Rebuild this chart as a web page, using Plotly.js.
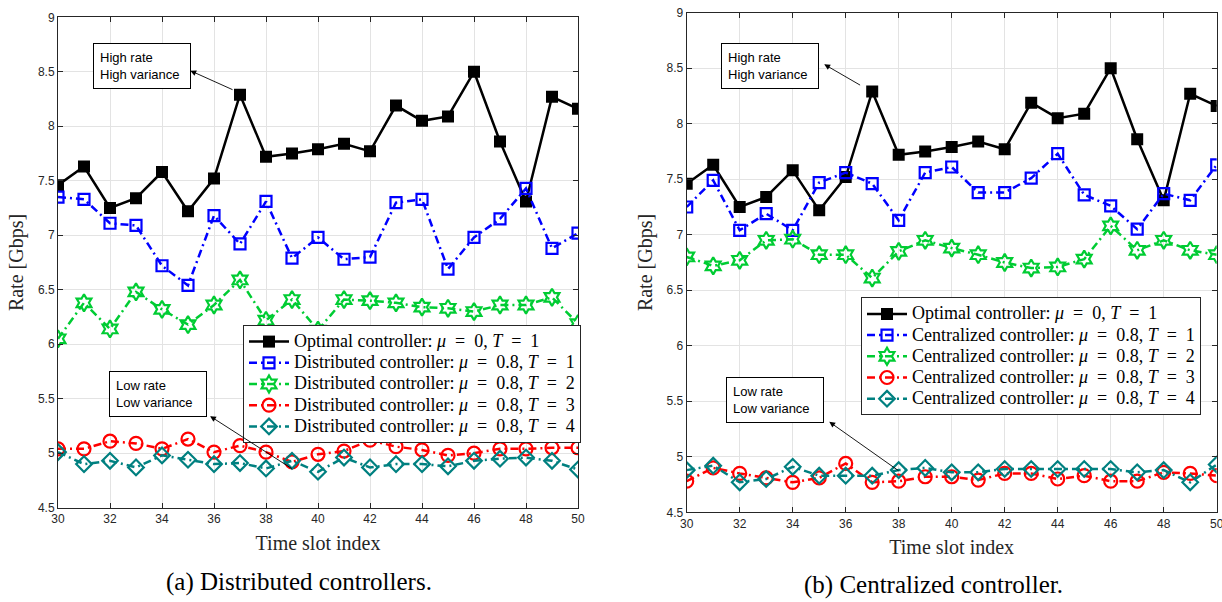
<!DOCTYPE html>
<html>
<head>
<meta charset="utf-8">
<script src="https://cdn.plot.ly/plotly-3.0.1.min.js"></script>
<style>
html,body{margin:0;padding:0;background:#fff;}
#chart{width:1222px;height:602px;}
.legendtext, .legend2text{font-size:18px !important;}
</style>
</head>
<body>
<div id="chart"></div>
<script>
// ---- data ----
const slots = [30,31,32,33,34,35,36,37,38,39,40,41,42,43,44,45,46,47,48,49,50];
const optimal = [7.46,7.63,7.25,7.34,7.58,7.22,7.52,8.29,7.72,7.75,7.79,7.84,7.77,8.19,8.05,8.09,8.50,7.86,7.31,8.27,8.16];
const distT1 = [7.35,7.33,7.11,7.09,6.72,6.54,7.18,6.92,7.31,6.79,6.98,6.78,6.80,7.30,7.33,6.69,6.98,7.15,7.43,6.88,7.02];
const distT2 = [6.05,6.38,6.14,6.48,6.32,6.18,6.36,6.59,6.22,6.41,6.13,6.41,6.40,6.38,6.34,6.33,6.30,6.36,6.36,6.43,6.19];
const distT3 = [5.04,5.04,5.11,5.09,5.04,5.13,5.01,5.07,5.01,4.92,4.99,5.02,5.12,5.06,5.03,4.98,5.00,5.04,5.04,5.05,5.05];
const distT4 = [5.01,4.90,4.93,4.87,4.98,4.94,4.90,4.91,4.86,4.93,4.83,4.96,4.87,4.90,4.90,4.88,4.93,4.95,4.96,4.93,4.85];
const centT1 = [7.25,7.49,7.04,7.19,7.04,7.47,7.56,7.46,7.13,7.56,7.61,7.38,7.38,7.51,7.73,7.36,7.26,7.05,7.37,7.31,7.63];
const centT2 = [6.80,6.72,6.77,6.95,6.96,6.82,6.82,6.61,6.85,6.95,6.88,6.82,6.75,6.70,6.71,6.78,7.08,6.86,6.95,6.86,6.82];
const centT3 = [4.78,4.90,4.85,4.81,4.77,4.81,4.94,4.77,4.78,4.82,4.82,4.79,4.85,4.85,4.80,4.83,4.78,4.78,4.86,4.85,4.83];
const centT4 = [4.88,4.92,4.77,4.80,4.91,4.83,4.83,4.83,4.88,4.90,4.86,4.86,4.89,4.89,4.89,4.89,4.89,4.86,4.88,4.77,4.93];

const SP = '\u2002';
const optName = 'Optimal controller: <i>μ</i>' + SP + '=' + SP + '0, <i>T</i>' + SP + '=' + SP + '1';
const distNames = [1,2,3,4].map(t => 'Distributed controller: <i>μ</i>' + SP + '=' + SP + '0.8, <i>T</i>' + SP + '=' + SP + t);
const centNames = [1,2,3,4].map(t => 'Centralized controller: <i>μ</i>' + SP + '=' + SP + '0.8, <i>T</i>' + SP + '=' + SP + t);
const xTitle = 'Time slot index';
const yTitle = 'Rate [Gbps]';
const captionA = '(a) Distributed controllers.';
const captionB = '(b) Centralized controller.';

// ---- styles ----
const W = 1222, H = 602;
const DASH = '8px,4px,2px,4px';
const styles = [
  {color:'#000000', symbol:'square', size:12, dash:'solid', open:false},
  {color:'#0000ff', symbol:'square-open', size:11, dash:DASH, open:true},
  {color:'#00cc33', symbol:'hexagram-open', size:13, dash:DASH, open:true},
  {color:'#ff0000', symbol:'circle-open', size:13, dash:DASH, open:true},
  {color:'#008080', symbol:'diamond-open', size:12, dash:DASH, open:true}
];
function mk(y, name, i, xa, ya, lg){
  const s = styles[i];
  return {
    x: slots, y: y, name: name, type:'scatter', mode:'lines+markers',
    xaxis: xa, yaxis: ya, legend: lg,
    line:{color:s.color, width:2.5, dash:s.dash},
    marker:{symbol:s.symbol, size:s.size, color:s.color,
            line:{color:s.color, width: s.open ? 2.2 : 0}}
  };
}
const left = [optimal, distT1, distT2, distT3, distT4];
const right = [optimal, centT1, centT2, centT3, centT4];
const traces = [];
left.forEach((y,i)=>traces.push(mk(y, i===0?optName:distNames[i-1], i, 'x', 'y', 'legend')));
right.forEach((y,i)=>traces.push(mk(y, i===0?optName:centNames[i-1], i, 'x2', 'y2', 'legend2')));

const tickFont = {family:'Liberation Sans, Arial, sans-serif', size:12, color:'#262626'};
const titleFont = {family:'Liberation Serif, Times New Roman, serif', size:20, color:'#262626'};
function xax(dom, anchor){
  return {domain:dom, anchor:anchor, range:[30,50], tickmode:'array',
    tickvals:[30,32,34,36,38,40,42,44,46,48,50], ticks:'inside', ticklen:5,
    tickcolor:'#262626', showline:true, linecolor:'#262626', linewidth:1, mirror:'ticks',
    showgrid:true, gridcolor:'#e3e3e3', gridwidth:1, zeroline:false, ticklabeloverflow:'allow',
    tickfont:tickFont, title:{text:xTitle, font:titleFont, standoff:10}, automargin:false};
}
function yax(dom, anchor){
  return {domain:dom, anchor:anchor, range:[4.5,9], tickmode:'array',
    tickvals:[4.5,5,5.5,6,6.5,7,7.5,8,8.5,9], ticktext:['4.5','5','5.5','6','6.5','7','7.5','8','8.5','9'],
    ticks:'inside', ticklen:5,
    tickcolor:'#262626', showline:true, linecolor:'#262626', linewidth:1, mirror:'ticks',
    showgrid:true, gridcolor:'#e3e3e3', gridwidth:1, zeroline:false,
    tickfont:tickFont, title:{text:yTitle, font:titleFont, standoff:8}, automargin:false};
}

const boxFont = {family:'Liberation Sans, Arial, sans-serif', size:13, color:'#000'};
function textBox(xr, yr, x, y, txt){
  return {xref:xr, yref:yr, x:x, y:y, xanchor:'left', yanchor:'top', text:txt,
    showarrow:false, align:'left', font:boxFont, bordercolor:'#000', borderwidth:1,
    borderpad:6, bgcolor:'#fff', width:84, height:32};
}
function arrow(xr, yr, hx, hy, tx, ty){
  return {xref:xr, yref:yr, axref:xr, ayref:yr, x:hx, y:hy, ax:tx, ay:ty, text:'',
    showarrow:true, arrowhead:2, arrowsize:1.3, arrowwidth:0.9, arrowcolor:'#000'};
}
const capFont = {family:'Liberation Serif, Times New Roman, serif', size:25, color:'#000'};
const legFont = {family:'Liberation Serif, Times New Roman, serif', size:14, color:'#000'};

const layout = {
  width:W, height:H, margin:{l:0, r:0, t:0, b:0},
  paper_bgcolor:'#fff', plot_bgcolor:'#fff', showlegend:true,
  xaxis: xax([58/W, 578/W], 'y'),
  yaxis: yax([1-507.7/H, 1-17.3/H], 'x'),
  xaxis2: xax([686.7/W, 1216.7/W], 'y2'),
  yaxis2: yax([1-512.3/H, 1-12.7/H], 'x2'),
  legend:{x:243/W, y:1-325/H, xanchor:'left', yanchor:'top', bgcolor:'#fff',
    bordercolor:'#262626', borderwidth:1, itemwidth:40, font:legFont, tracegroupgap:0},
  legend2:{x:861/W, y:1-297.3/H, xanchor:'left', yanchor:'top', bgcolor:'#fff',
    bordercolor:'#262626', borderwidth:1, itemwidth:40, font:legFont, tracegroupgap:0},
  annotations:[
    textBox('x','y',31.33,8.76,'High rate<br>High variance'),
    arrow('x','y',35.09,8.51,36.77,8.33),
    textBox('x','y',31.97,5.752,'Low rate<br>Low variance'),
    arrow('x','y',35.85,5.34,39.05,4.85),
    textBox('x2','y2',31.29,8.724,'High rate<br>High variance'),
    arrow('x2','y2',35.19,8.535,36.60,8.34),
    textBox('x2','y2',31.48,5.721,'Low rate<br>Low variance'),
    arrow('x2','y2',35.38,5.315,38.05,4.865),
    {xref:'paper', yref:'paper', x:298.5/W, y:1-582/H, xanchor:'center', yanchor:'middle',
     text:captionA, showarrow:false, font:capFont},
    {xref:'paper', yref:'paper', x:933/W, y:1-585/H, xanchor:'center', yanchor:'middle',
     text:captionB, showarrow:false, font:capFont}
  ]
};
Plotly.newPlot('chart', traces, layout, {displayModeBar:false, staticPlot:true});
</script>
</body>
</html>
